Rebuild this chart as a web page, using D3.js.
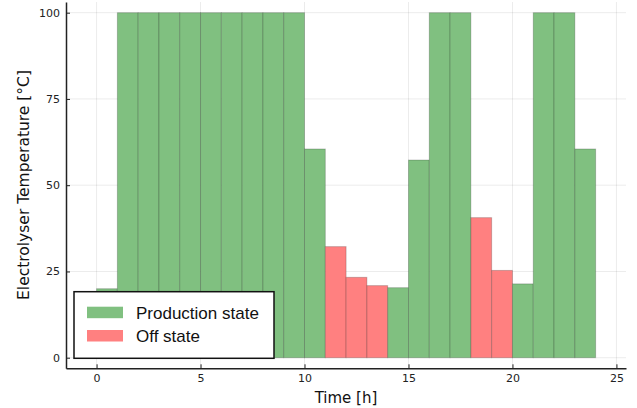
<!DOCTYPE html>
<html>
<head>
<meta charset="utf-8">
<script src="https://cdn.jsdelivr.net/npm/d3@7"></script>
<style>
  body { margin: 0; background: #fff; }
  text { font-family: "DejaVu Sans", sans-serif; }
  .legend-label { font-family: "Liberation Sans", Arial, sans-serif; }
</style>
</head>
<body>
<svg id="chart" width="637" height="408"></svg>
<script>
// hourly electrolyser temperature and state
var hours = d3.range(0, 24);
var temps = [20, 100, 100, 100, 100, 100, 100, 100, 100, 100, 60.5, 32.2, 23.3, 20.9,
             20.3, 57.3, 100, 100, 40.6, 25.3, 21.4, 100, 100, 60.5];
var states = ['on', 'on', 'on', 'on', 'on', 'on', 'on', 'on', 'on', 'on', 'on', 'off', 'off', 'off',
              'on', 'on', 'on', 'on', 'off', 'off', 'on', 'on', 'on', 'on'];
var x_ticks = [0, 5, 10, 15, 20, 25];
var y_ticks = [0, 25, 50, 75, 100];
var legend_entries = [
  {label: 'Production state', state: 'on'},
  {label: 'Off state', state: 'off'}
];

var fill = {on: 'rgb(128,192,128)', off: 'rgb(255,128,128)'};

var svg = d3.select('#chart');

var x = d3.scaleLinear().domain([-1.47, 25.46]).range([66, 626]);
var y = d3.scaleLinear().domain([-3.07, 103.1]).range([368.3, 2]);

// grid
svg.append('g').selectAll('line.vgrid')
  .data(x_ticks).enter().append('line')
  .attr('x1', function(d) { return x(d); })
  .attr('x2', function(d) { return x(d); })
  .attr('y1', y.range()[1]).attr('y2', y.range()[0])
  .attr('stroke', '#000').attr('stroke-opacity', 0.1).attr('stroke-width', 0.8);

svg.append('g').selectAll('line.hgrid')
  .data(y_ticks).enter().append('line')
  .attr('x1', x.range()[0]).attr('x2', x.range()[1])
  .attr('y1', function(d) { return y(d); })
  .attr('y2', function(d) { return y(d); })
  .attr('stroke', '#000').attr('stroke-opacity', 0.1).attr('stroke-width', 0.8);

// bars
svg.append('g').selectAll('rect.bar')
  .data(hours).enter().append('rect')
  .attr('class', 'bar')
  .attr('x', function(h) { return x(h); })
  .attr('width', function(h) { return x(h + 1) - x(h); })
  .attr('y', function(h) { return y(temps[h]); })
  .attr('height', function(h) { return y(0) - y(temps[h]); })
  .attr('fill', function(h) { return fill[states[h]]; })
  .attr('stroke', 'rgba(0,0,0,0.2)')
  .attr('stroke-width', 1);

// axes
var xAxis = d3.axisBottom(x).tickValues(x_ticks).tickSizeInner(-4).tickSizeOuter(0).tickPadding(6);
var yAxis = d3.axisLeft(y).tickValues(y_ticks).tickSizeInner(-4).tickSizeOuter(0).tickPadding(6);

var gx = svg.append('g').attr('transform', 'translate(0,' + y.range()[0] + ')').call(xAxis);
var gy = svg.append('g').attr('transform', 'translate(' + x.range()[0] + ',0)').call(yAxis);

[gx, gy].forEach(function(g) {
  g.select('.domain').attr('stroke', '#222').attr('stroke-width', 1.5);
  g.selectAll('.tick line').attr('stroke', '#222').attr('stroke-width', 1);
  g.selectAll('.tick text').attr('fill', '#222').style('font-size', '11px');
});

svg.append('text')
  .attr('x', 346).attr('y', 403)
  .attr('text-anchor', 'middle')
  .style('font-size', '15px').attr('fill', '#111')
  .text('Time [h]');

svg.append('text')
  .attr('transform', 'translate(28.5,' + 185 + ') rotate(-90)')
  .attr('text-anchor', 'middle')
  .style('font-size', '15.5px').attr('fill', '#111')
  .text('Electrolyser Temperature [°C]');

// legend
var legend = svg.append('g');
legend.append('rect')
  .attr('x', 74).attr('y', 291.7).attr('width', 200).attr('height', 66.6)
  .attr('fill', '#fff').attr('stroke', '#111').attr('stroke-width', 1.5);

var leg = legend.selectAll('g.entry')
  .data(legend_entries).enter().append('g')
  .attr('transform', function(d, i) { return 'translate(0,' + (i * 23.3) + ')'; });

leg.append('rect')
  .attr('x', 87).attr('y', 306.7).attr('width', 36).attr('height', 11.5)
  .attr('fill', function(d) { return fill[d.state]; });

leg.append('text')
  .attr('class', 'legend-label')
  .attr('x', 136).attr('y', 318.5)
  .style('font-size', '17px').attr('fill', '#111')
  .text(function(d) { return d.label; });
</script>
</body>
</html>
